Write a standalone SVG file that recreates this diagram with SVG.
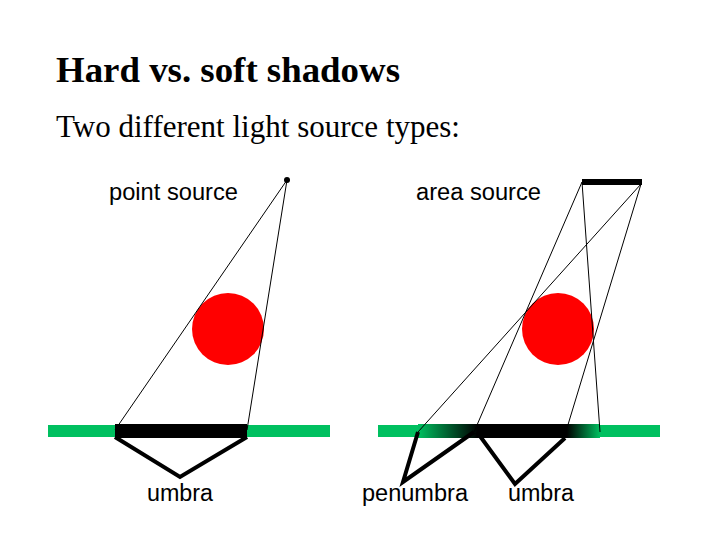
<svg xmlns="http://www.w3.org/2000/svg" width="720" height="540" viewBox="0 0 720 540">
<style>
.t{font-family:"Liberation Serif",serif;fill:#000}
.s{font-family:"Liberation Sans",sans-serif;font-size:23px;fill:#000}
.ray{stroke:#000;stroke-width:1;fill:none}
.br{stroke:#000;stroke-width:4;fill:none;stroke-linejoin:miter}
</style>
<defs>
<linearGradient id="pen" x1="418" x2="600" y1="0" y2="0" gradientUnits="userSpaceOnUse">
<stop offset="0" stop-color="#00c060"/>
<stop offset="0.327" stop-color="#000"/>
<stop offset="0.818" stop-color="#000"/>
<stop offset="1" stop-color="#00c060"/>
</linearGradient>
</defs>
<rect width="720" height="540" fill="#fff"/>
<text class="t" x="56" y="82" font-size="35" font-weight="bold" textLength="344" lengthAdjust="spacingAndGlyphs">Hard vs. soft shadows</text>
<text class="t" x="56" y="137" font-size="31" textLength="404" lengthAdjust="spacingAndGlyphs">Two different light source types:</text>
<g id="left">
<rect x="48" y="425" width="282" height="12" fill="#00c060"/>
<rect x="115" y="424" width="132" height="14" fill="#000"/>
<circle cx="228" cy="329" r="36" fill="#f00"/>
<circle cx="287" cy="180" r="3" fill="#000"/>
<path class="ray" d="M287 180 L115 430 M287 180 L247 430"/>
<path class="br" d="M115 437 L180 477 L247 437"/>
<text class="s" x="109" y="200" textLength="129" lengthAdjust="spacingAndGlyphs">point source</text>
<text class="s" x="147" y="501" textLength="66" lengthAdjust="spacingAndGlyphs">umbra</text>
</g>
<g id="right">
<rect x="378" y="425" width="282" height="12" fill="#00c060"/>
<rect x="418" y="424" width="182" height="14" fill="url(#pen)"/>
<circle cx="558" cy="329" r="36" fill="#f00"/>
<rect x="582" y="179" width="60" height="6" fill="#000"/>
<path class="ray" d="M582 182 L600 432 M582 182 L474 432 M641 184 L418 432 M641 184 L567 428"/>
<path class="br" d="M418 432 L403 482 L474 432 M477 432 L515 484 L565 438"/>
<text class="s" x="416" y="200" textLength="125" lengthAdjust="spacingAndGlyphs">area source</text>
<text class="s" x="362" y="501" textLength="106" lengthAdjust="spacingAndGlyphs">penumbra</text>
<text class="s" x="508" y="501" textLength="66" lengthAdjust="spacingAndGlyphs">umbra</text>
</g>
</svg>
